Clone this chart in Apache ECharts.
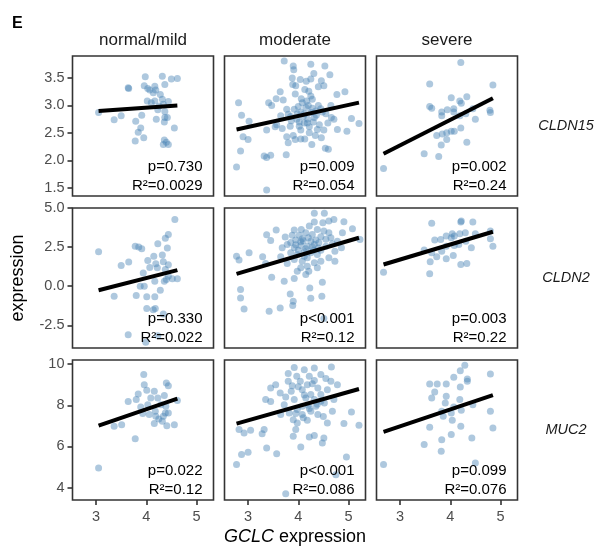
<!DOCTYPE html>
<html><head><meta charset="utf-8">
<script src="https://cdn.jsdelivr.net/npm/echarts@6/dist/echarts.min.js"></script>
<style>html,body{margin:0;padding:0;background:#fff}#c{width:594px;height:549px}</style>
</head><body><div id="c"></div><script>
// ---- categories ----
const severities = ['normal/mild', 'moderate', 'severe'];
const genes = ['CLDN15', 'CLDN2', 'MUC2'];
const panelLetter = 'E';
// ---- ticks / ranges ----
const xTicks = [3, 4, 5];
const xRange = [2.53, 5.34];
const yTicksCLDN15 = [1.5, 2.0, 2.5, 3.0, 3.5];
const yTicksCLDN2 = [-2.5, 0, 2.5, 5];
const yTicksMUC2 = [4, 6, 8, 10];
const yRangeCLDN15 = [1.35, 3.9];
const yRangeCLDN2 = [-3.95, 5.0];
const yRangeMUC2 = [3.4, 10.2];
// ---- data: [GCLC, gene] ----
const cldn15_normal = [[3.05,2.87],[3.36,2.74],[3.50,2.81],[3.64,3.32],[3.65,3.31],[3.98,3.52],[3.96,3.36],[4.03,3.31],[4.07,3.28],[4.17,3.35],[4.19,3.28],[4.14,3.23],[4.32,3.53],[4.37,3.38],[4.50,3.48],[4.62,3.49],[4.28,3.20],[4.02,3.08],[4.17,3.08],[4.10,3.05],[4.32,3.11],[4.44,3.07],[4.23,2.92],[4.37,2.89],[3.91,2.82],[4.20,2.75],[4.37,2.78],[4.42,2.78],[4.36,2.70],[3.79,2.71],[3.89,2.59],[3.84,2.51],[4.56,2.59],[3.95,2.41],[3.78,2.35],[4.36,2.37],[4.40,2.33],[4.34,2.29],[4.44,2.29],[4.34,3.02],[4.26,2.99]];
const cldn15_moderate = [[3.72,3.81],[3.90,3.72],[3.91,3.65],[4.25,3.75],[4.53,3.72],[4.63,3.56],[4.31,3.58],[3.88,3.50],[4.04,3.47],[4.16,3.44],[4.25,3.48],[4.46,3.45],[3.89,3.38],[3.95,3.36],[4.40,3.34],[4.51,3.36],[3.64,3.25],[3.94,3.21],[4.13,3.29],[4.21,3.26],[4.93,3.25],[4.77,3.20],[3.56,3.12],[3.70,3.10],[3.41,3.05],[3.47,3.00],[2.81,3.05],[2.87,2.82],[3.02,2.71],[2.90,2.43],[3.00,2.38],[2.85,2.17],[2.77,1.88],[3.32,2.08],[3.37,2.05],[3.45,2.09],[3.37,1.46],[3.76,2.10],[3.80,2.32],[3.94,2.38],[4.05,2.39],[4.13,2.39],[3.90,2.45],[3.77,2.43],[4.27,2.29],[4.34,2.45],[4.46,2.41],[4.54,2.22],[4.60,2.20],[4.38,2.56],[4.51,2.55],[4.78,2.56],[4.97,2.53],[5.06,2.76],[5.21,2.67],[3.37,2.55],[3.54,2.61],[3.68,2.58],[3.84,2.62],[4.02,2.62],[4.12,2.68],[4.22,2.61],[3.80,2.84],[3.92,2.93],[4.05,2.88],[4.15,2.96],[4.25,2.87],[4.35,2.90],[4.45,2.94],[4.55,2.85],[4.65,3.00],[4.66,2.78],[4.32,2.78],[4.19,2.75],[4.06,3.12],[4.17,3.08],[4.28,3.11],[4.25,3.17],[4.08,3.05],[3.97,2.75],[3.86,2.72],[4.42,2.65],[4.59,2.68],[4.71,2.75],[3.77,2.93],[3.65,2.81],[3.57,2.65],[4.10,2.80],[4.00,2.98],[4.20,3.00],[4.30,2.70],[3.85,2.80],[4.40,3.00],[4.02,2.70],[4.12,2.85],[4.28,2.95],[3.98,2.85],[4.36,2.82],[4.18,2.68],[4.48,2.88],[4.05,2.55],[4.22,2.50]];
const cldn15_severe = [[2.67,1.85],[3.59,3.39],[4.21,3.78],[4.85,3.37],[3.59,2.98],[3.63,2.95],[3.83,2.88],[3.83,2.81],[3.94,2.92],[4.02,3.14],[4.07,2.94],[4.19,3.08],[4.22,3.04],[4.33,3.16],[4.07,2.88],[4.19,2.81],[4.45,2.94],[4.31,2.85],[4.79,2.91],[4.80,2.87],[4.50,2.75],[3.73,2.45],[3.84,2.48],[3.93,2.50],[4.02,2.53],[4.08,2.53],[4.21,2.59],[3.93,2.38],[3.82,2.28],[4.33,2.33],[3.48,2.12],[3.77,2.07]];
const cldn2_normal = [[3.05,2.20],[4.57,4.27],[4.44,3.31],[4.38,3.06],[3.78,2.56],[3.85,2.50],[3.91,2.39],[4.23,2.71],[4.42,2.44],[3.65,1.54],[3.50,1.32],[4.15,1.92],[4.32,1.99],[4.03,1.65],[4.19,1.43],[4.34,1.56],[4.44,1.37],[4.07,1.20],[3.94,0.85],[4.22,1.18],[4.38,1.07],[4.44,0.64],[4.52,0.47],[4.62,0.47],[4.36,0.32],[4.17,0.32],[3.88,0.00],[3.96,0.00],[4.28,-0.26],[3.36,-0.64],[3.80,-0.60],[4.01,-0.68],[4.17,-0.68],[4.01,-1.43],[4.18,-1.43],[4.14,-1.50],[4.34,-1.77],[3.64,-3.10],[4.23,-3.16],[3.99,-3.59],[4.40,0.43]];
const cldn2_moderate = [[4.32,4.66],[4.52,4.66],[4.32,4.10],[4.49,4.06],[4.61,4.17],[4.71,4.27],[4.91,4.12],[4.22,3.85],[4.38,3.63],[4.06,3.63],[3.92,3.59],[3.56,3.59],[3.37,3.29],[3.45,2.93],[3.74,3.14],[3.88,3.25],[4.02,3.25],[4.15,3.42],[4.28,3.31],[4.45,3.16],[4.61,3.42],[4.65,3.10],[4.78,2.88],[5.08,3.68],[5.23,2.99],[4.86,2.46],[4.73,2.24],[4.55,2.56],[4.32,2.67],[4.18,2.56],[4.05,2.61],[3.92,2.46],[3.78,2.67],[3.68,2.46],[3.85,2.14],[3.98,2.03],[4.12,1.92],[4.25,2.14],[4.38,2.03],[4.45,1.60],[4.61,1.82],[4.73,1.60],[4.32,1.50],[4.18,1.28],[4.05,1.18],[4.21,0.96],[3.98,0.96],[4.15,0.75],[3.78,1.45],[3.47,0.58],[3.92,0.49],[3.72,0.32],[4.48,0.26],[3.02,2.14],[3.29,1.88],[3.35,1.45],[2.77,1.92],[2.82,1.67],[2.85,-0.21],[2.85,-0.75],[2.92,-1.45],[3.42,-1.60],[3.64,-1.39],[3.90,-0.96],[3.89,-1.24],[3.84,-0.49],[4.23,-0.11],[4.25,-0.77],[4.47,-0.64],[4.51,-2.07],[4.08,3.03],[4.25,2.88],[4.41,2.78],[3.95,2.95],[4.68,2.71],[4.88,3.42],[4.51,3.53],[3.92,1.71],[4.08,1.60],[4.18,1.82],[3.65,1.88],[4.38,1.18],[4.00,2.30],[4.15,2.40],[4.30,2.30],[3.85,2.80],[4.10,2.90],[4.40,2.45],[4.20,3.10],[4.35,2.95],[4.05,2.85],[4.55,3.00],[3.95,2.65],[4.28,2.50],[4.45,2.30],[4.12,2.20]];
const cldn2_severe = [[2.67,0.90],[3.63,4.02],[4.21,4.10],[4.22,4.17],[4.45,4.10],[3.69,2.95],[3.81,2.99],[3.92,3.21],[4.04,3.35],[4.08,3.21],[4.19,3.35],[4.30,3.42],[4.50,3.35],[4.80,3.53],[4.80,3.03],[4.85,2.56],[4.42,2.46],[3.48,2.31],[3.63,2.14],[3.83,2.24],[3.92,2.56],[4.08,2.61],[4.17,2.67],[4.31,2.88],[3.73,1.88],[3.92,1.75],[4.06,1.97],[3.60,1.56],[4.21,1.39],[4.33,1.45],[3.59,0.79],[4.02,3.10]];
const muc2_normal = [[3.05,4.96],[3.95,9.49],[3.96,9.00],[4.01,8.73],[3.84,8.55],[3.64,8.19],[3.80,8.28],[4.03,8.03],[4.16,8.68],[4.23,8.36],[4.36,8.47],[4.40,9.08],[4.44,8.95],[4.62,8.23],[3.89,7.92],[3.93,7.60],[4.06,7.55],[4.18,7.71],[4.19,7.47],[4.25,7.34],[4.34,7.47],[4.38,7.63],[4.44,7.63],[4.39,7.95],[4.29,8.03],[4.16,7.11],[4.41,7.01],[4.56,7.06],[3.36,6.98],[3.51,7.06],[3.78,6.37],[4.09,8.36],[4.32,7.22]];
const muc2_moderate = [[3.92,9.84],[4.12,9.73],[4.32,9.81],[4.66,9.86],[3.80,9.54],[3.97,9.41],[4.22,9.41],[4.45,9.49],[3.80,9.17],[4.04,9.17],[4.32,9.21],[4.65,9.17],[4.78,9.00],[3.55,9.00],[3.45,8.84],[3.64,8.60],[3.86,8.68],[4.08,8.76],[4.39,8.84],[4.58,8.76],[3.35,8.28],[3.45,8.19],[3.72,8.03],[3.92,8.28],[4.15,8.36],[4.32,8.28],[4.52,8.11],[4.71,8.28],[3.82,7.63],[3.98,7.79],[4.08,7.55],[4.25,7.71],[4.39,7.55],[4.68,7.71],[5.06,7.68],[3.90,7.30],[4.18,7.27],[4.58,7.14],[4.91,7.11],[5.21,7.03],[2.82,6.82],[2.92,6.66],[3.05,6.79],[3.32,6.82],[3.28,6.62],[3.95,6.82],[3.90,6.50],[4.22,6.46],[4.32,6.53],[4.51,6.41],[4.48,6.17],[4.05,5.98],[3.37,5.93],[3.57,5.65],[2.87,5.61],[3.00,5.72],[2.77,5.12],[4.96,5.49],[4.75,4.63],[3.75,3.70],[4.08,7.95],[4.25,8.52],[4.45,8.52],[4.18,9.00],[4.35,7.95],[3.98,7.14],[3.65,7.55],[4.00,8.90],[4.20,8.00],[4.45,8.20],[3.75,8.40],[4.10,7.40],[4.28,9.05],[4.55,9.30],[3.88,8.95],[4.12,8.50],[4.38,8.05],[3.95,7.60],[4.22,7.85],[4.50,7.45]];
const muc2_severe = [[2.67,5.12],[4.29,9.94],[4.20,9.68],[4.80,9.52],[4.07,9.36],[4.34,9.28],[4.34,9.17],[3.59,9.04],[3.74,9.04],[3.92,9.04],[4.20,8.89],[3.69,8.65],[3.63,8.36],[3.92,8.44],[4.19,8.28],[3.90,8.11],[4.45,8.03],[4.07,7.92],[4.22,7.76],[3.83,7.71],[4.02,7.63],[3.86,7.47],[4.04,7.27],[4.80,7.71],[3.59,6.93],[4.21,6.98],[4.85,6.90],[4.02,6.58],[3.83,6.33],[4.43,6.41],[3.48,6.09],[3.82,5.77],[4.50,5.20]];
// ---- fitted lines (endpoints) ----
const fit_cldn15 = [[[3.05,2.90],[4.62,3.00]], [[2.77,2.56],[5.21,3.05]], [[2.67,2.12],[4.85,3.13]]];
const fit_cldn2  = [[[3.05,-0.26],[4.62,1.03]], [[2.77,0.79],[5.21,3.10]], [[2.67,1.39],[4.85,3.48]]];
const fit_muc2   = [[[3.05,7.01],[4.62,8.32]], [[2.77,7.11],[5.21,8.79]], [[2.67,6.71],[4.85,8.49]]];
// ---- stats ----
const pCLDN15 = ['p=0.730', 'p=0.009', 'p=0.002'];
const r2CLDN15 = ['R²=0.0029', 'R²=0.054', 'R²=0.24'];
const pCLDN2 = ['p=0.330', 'p<0.001', 'p=0.003'];
const r2CLDN2 = ['R²=0.022', 'R²=0.12', 'R²=0.22'];
const pMUC2 = ['p=0.022', 'p<0.001', 'p=0.099'];
const r2MUC2 = ['R²=0.12', 'R²=0.086', 'R²=0.076'];

// ---- assemble ----
const rows = [
  {ticks: yTicksCLDN15, range: yRangeCLDN15, data: [cldn15_normal, cldn15_moderate, cldn15_severe], fit: fit_cldn15, p: pCLDN15, r2: r2CLDN15, fmt: v => v.toFixed(1)},
  {ticks: yTicksCLDN2, range: yRangeCLDN2, data: [cldn2_normal, cldn2_moderate, cldn2_severe], fit: fit_cldn2, p: pCLDN2, r2: r2CLDN2, fmt: v => v.toFixed(1)},
  {ticks: yTicksMUC2, range: yRangeMUC2, data: [muc2_normal, muc2_moderate, muc2_severe], fit: fit_muc2, p: pMUC2, r2: r2MUC2, fmt: v => String(Math.round(v))}
];
const colLeft = [72.5, 224.5, 376.5];
const rowTop = [56, 208, 360];
const W = 141, H = 140;
const FONT = '"Liberation Sans", Arial, sans-serif';

const grid = [], xAxis = [], yAxis = [], series = [], graphic = [];
rows.forEach((row, r) => {
  severities.forEach((sev, c) => {
    const i = r * 3 + c;
    grid.push({left: colLeft[c], top: rowTop[r], width: W, height: H, show: true,
      borderColor: '#333', borderWidth: 1.6, backgroundColor: 'transparent', containLabel: false, outerBoundsMode: 'none'});
    xAxis.push({type: 'value', gridIndex: i, min: xRange[0], max: xRange[1],
      axisLine: {show: false}, splitLine: {show: false},
      axisTick: {show: r === 2, length: 5, lineStyle: {color: '#333', width: 1.6}, customValues: xTicks},
      axisLabel: {show: r === 2, customValues: xTicks, color: '#4d4d4d', fontSize: 14.5, fontFamily: FONT, margin: 9}});
    yAxis.push({type: 'value', gridIndex: i, min: row.range[0], max: row.range[1],
      axisLine: {show: false}, splitLine: {show: false},
      axisTick: {show: c === 0, length: 5, lineStyle: {color: '#333', width: 1.6}, customValues: row.ticks},
      axisLabel: {show: c === 0, customValues: row.ticks, formatter: row.fmt, color: '#4d4d4d', fontSize: 14.5, fontFamily: FONT, margin: 8}});
    series.push({type: 'scatter', xAxisIndex: i, yAxisIndex: i, data: row.data[c], symbolSize: 7,
      itemStyle: {color: 'rgba(70,130,180,0.55)'}, silent: true, z: 2});
    series.push({type: 'line', xAxisIndex: i, yAxisIndex: i, data: row.fit[c], symbol: 'none',
      lineStyle: {color: '#000', width: 4}, silent: true, z: 3});
    const rx = colLeft[c] + W - 11, by = rowTop[r] + H;
    graphic.push({type: 'text', z: 10, style: {text: row.p[c], x: rx, y: by - 29, textAlign: 'right', textVerticalAlign: 'middle', font: '15px ' + FONT, fill: '#000'}});
    graphic.push({type: 'text', z: 10, style: {text: row.r2[c], x: rx, y: by - 10, textAlign: 'right', textVerticalAlign: 'middle', font: '15px ' + FONT, fill: '#000'}});
  });
});
severities.forEach((s, c) => {
  graphic.push({type: 'text', style: {text: s, x: colLeft[c] + W / 2, y: 40, textAlign: 'center', textVerticalAlign: 'middle', font: '17px ' + FONT, fill: '#1a1a1a'}});
});
genes.forEach((g, r) => {
  graphic.push({type: 'text', style: {text: g, x: 566, y: rowTop[r] + H / 2, textAlign: 'center', textVerticalAlign: 'middle', font: 'italic 14.5px ' + FONT, fill: '#1a1a1a'}});
});
graphic.push({type: 'text', style: {text: panelLetter, x: 12, y: 24, textAlign: 'left', textVerticalAlign: 'middle', font: 'bold 16px ' + FONT, fill: '#000'}});
graphic.push({type: 'text', rotation: Math.PI / 2, x: 18, y: 278, style: {text: 'expression', x: 0, y: 0, textAlign: 'center', textVerticalAlign: 'middle', font: '18px ' + FONT, fill: '#000'}});
graphic.push({type: 'text', style: {
  text: '{i|GCLC} {n|expression}', x: 295, y: 537, textAlign: 'center', textVerticalAlign: 'middle',
  rich: {i: {fontStyle: 'italic', fontSize: 18, fontFamily: FONT, fill: '#000'}, n: {fontSize: 18, fontFamily: FONT, fill: '#000'}},
  font: '18px ' + FONT, fill: '#000'}});

const chart = echarts.init(document.getElementById('c'), null, {renderer: 'canvas'});
chart.setOption({animation: false, backgroundColor: '#fff', grid, xAxis, yAxis, series, graphic});
</script></body></html>
